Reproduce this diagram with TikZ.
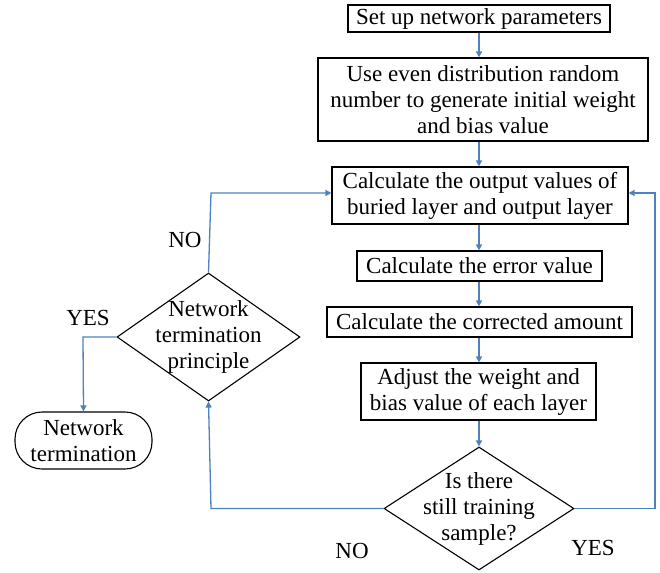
\documentclass[tikz,border=0pt]{standalone}
\usepackage{fontspec}
\setmainfont{Liberation Serif}
\usetikzlibrary{shapes.geometric,arrows.meta}
\definecolor{flowblue}{RGB}{79,129,189}
\begin{document}
\begin{tikzpicture}[x=1pt,y=-1pt,
  every node/.style={font=\fontsize{23}{26}\selectfont},
  procbox/.style={draw=black,line width=1.1pt,inner sep=0pt,align=center},
  dia/.style={diamond,draw=black,line width=1.1pt,inner sep=0pt},
  term/.style={draw=black,line width=1.1pt,rounded corners=27pt,inner sep=0pt,align=center},
  flow/.style={draw=flowblue,line width=1.3pt,-{Triangle[width=6pt,length=6pt]}},
  lbl/.style={inner sep=0pt}]
\useasboundingbox (0,0) rectangle (660,572);
\node[procbox,minimum width=262pt,minimum height=27pt] (b1) at (479,18.5) {Set up network parameters};
\node[procbox,minimum width=330pt,minimum height=83pt] (b2) at (483,99.5) {Use even distribution random\\number to generate initial weight\\and bias value};
\node[procbox,minimum width=296pt,minimum height=57pt] (b3) at (480,195.5) {Calculate the output values of\\buried layer and output layer};
\node[procbox,minimum width=245pt,minimum height=30pt] (b4) at (479.5,266) {Calculate the error value};
\node[procbox,minimum width=305pt,minimum height=30pt] (b5) at (479.5,322) {Calculate the corrected amount};
\node[procbox,minimum width=235pt,minimum height=57pt] (b6) at (478.5,391.5) {Adjust the weight and\\bias value of each layer};
\node[dia,minimum width=190pt,minimum height=123pt,label={[align=center,inner sep=0pt]center:Is there\\still training\\sample?}] (d2) at (479,508.5) {};
\node[dia,minimum width=183pt,minimum height=128pt,label={[align=center,inner sep=0pt]center:Network\\termination\\principle}] (d1) at (208.5,337) {};
\node[term,minimum width=137pt,minimum height=57pt] (t) at (83.5,440.5) {Network\\termination};
\coordinate (rloop) at (655,193);
\coordinate (lloop) at (211,193);
\coordinate (ylft) at (83,337);
\coordinate (nbot) at (211,508.5);
\draw[flow] (b1.south -| 479,0) -- (b2.north -| 479,0);
\draw[flow] (b2.south -| 479,0) -- (b3.north -| 479,0);
\draw[flow] (b3.south -| 479,0) -- (b4.north -| 479,0);
\draw[flow] (b4.south -| 479,0) -- (b5.north -| 479,0);
\draw[flow] (b5.south -| 479,0) -- (b6.north -| 479,0);
\draw[flow] (b6.south -| 479,0) -- (d2.north);
\draw[flow] (d2.east) -| (rloop) -- (b3.east |- rloop);
\draw[flow] (d2.west) -- (nbot) -- (d1.south);
\draw[flow] (d1.north) -- (lloop) -- (b3.west |- lloop);
\draw[flow] (d1.west) -- (ylft) -- (t.north);
\node[lbl] (no1) at (185,240) {NO};
\node[lbl] (yes1) at (88,318) {YES};
\node[lbl] (no2) at (352,551) {NO};
\node[lbl] (yes2) at (593,548) {YES};
\end{tikzpicture}
\end{document}
